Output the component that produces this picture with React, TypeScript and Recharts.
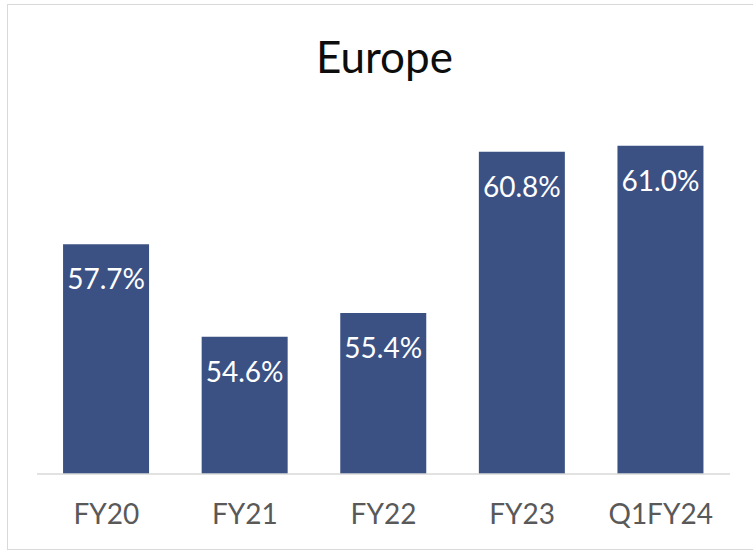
import { BarChart, Bar, XAxis, YAxis, LabelList } from 'recharts'

const periods = ['FY20', 'FY21', 'FY22', 'FY23', 'Q1FY24']
const marginPct = [57.7, 54.6, 55.4, 60.8, 61.0]

const data = periods.map((period, i) => ({ period, value: marginPct[i] }))

const FONT = '"Liberation Sans Narrow", Lato, "Liberation Sans", sans-serif'
const BAR = '#3b5184'

export default function App() {
  return (
    <div style={{ position: 'absolute', left: 0, top: 0, width: 753, height: 552, background: '#fff', overflow: 'hidden', fontFamily: FONT }}>
      <div
        style={{
          position: 'absolute',
          left: 7,
          top: 4,
          width: 760,
          height: 546,
          border: '1px solid #d9d9d9',
          boxSizing: 'border-box',
        }}
      />
      <div
        style={{
          position: 'absolute',
          left: 8,
          width: 753,
          top: 29,
          textAlign: 'center',
          fontSize: 44,
          lineHeight: '54px',
          color: '#0d0d0d',
        }}
      >
        Europe
      </div>
      <div style={{ position: 'absolute', left: 0, top: 0 }}>
        <BarChart
          width={753}
          height={552}
          data={data}
          margin={{ top: 116, right: 23, bottom: 0, left: 37 }}
          barCategoryGap="18.8%"
        >
          <XAxis
            dataKey="period"
            height={78}
            tickLine={false}
            axisLine={{ stroke: '#d9d9d9', strokeWidth: 1.5 }}
            tickMargin={24}
            tick={{ fill: '#595959', fontSize: 28, fontFamily: FONT }}
          />
          <YAxis hide domain={[50, 62]} />
          <Bar dataKey="value" fill={BAR} isAnimationActive={false}>
            <LabelList
              dataKey="value"
              position="insideTop"
              offset={25}
              formatter={(v: number) => `${v.toFixed(1)}%`}
              style={{ fill: '#ffffff', fontSize: 28, fontFamily: FONT }}
            />
          </Bar>
        </BarChart>
      </div>
    </div>
  )
}
